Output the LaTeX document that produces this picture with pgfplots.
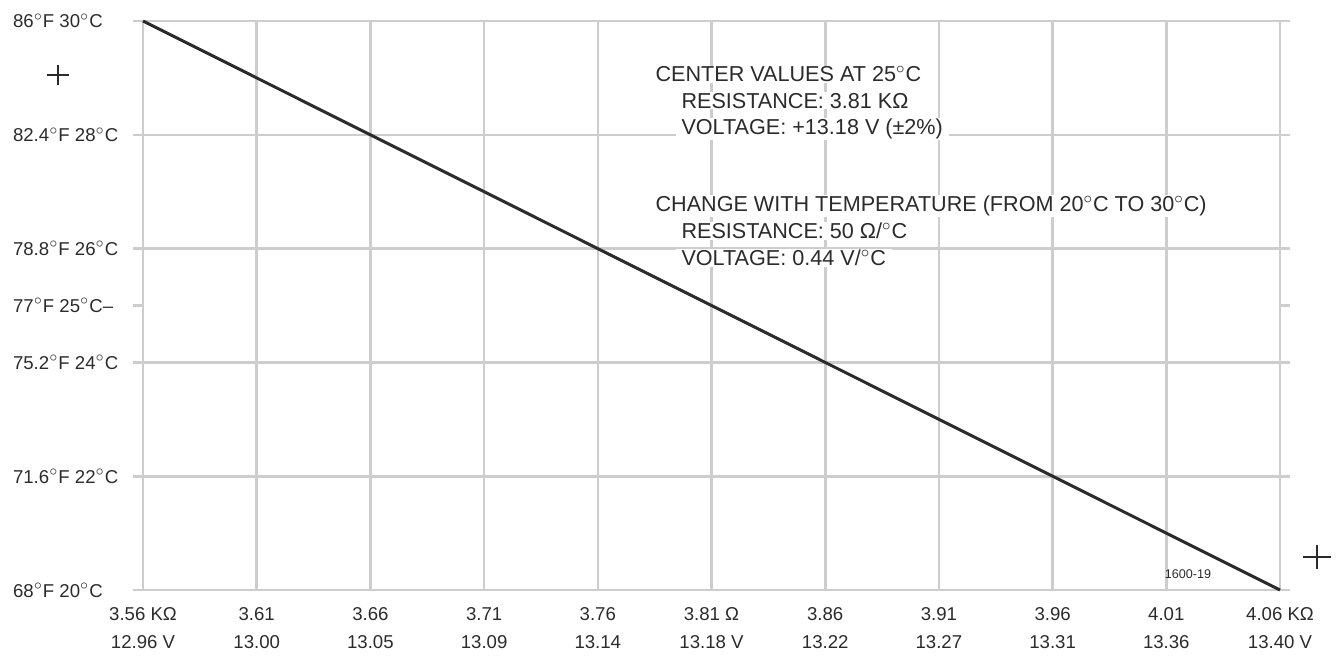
\documentclass[border=0pt]{standalone}
\usepackage{fontspec}
\setmainfont{Liberation Sans}
\usepackage{pgfplots}
\pgfplotsset{compat=1.18}
\definecolor{gridc}{HTML}{CDCDCD}
\definecolor{ink}{HTML}{2B2B2B}
\newcommand{\dg}{\ensuremath{^\circ}}
\begin{document}
\begin{tikzpicture}
\begin{axis}[
  scale only axis, width=568.5pt, height=284.5pt,
  xmin=3.56, xmax=4.06, ymin=20, ymax=30,
  clip=false,
  xtick={3.56,3.61,3.66,3.71,3.76,3.81,3.86,3.91,3.96,4.01,4.06},
  xticklabels={{3.56 KΩ\\12.96 V},{3.61\\13.00},{3.66\\13.05},{3.71\\13.09},{3.76\\13.14},{3.81 Ω\\13.18 V},{3.86\\13.22},{3.91\\13.27},{3.96\\13.31},{4.01\\13.36},{4.06 KΩ\\13.40 V}},
  ytick={20,22,24,26,28,30},
  yticklabels={{68\dg F 20\dg C},{71.6\dg F 22\dg C},{75.2\dg F 24\dg C},{78.8\dg F 26\dg C},{82.4\dg F 28\dg C},{86\dg F 30\dg C}},
  extra y ticks={25},
  extra y tick labels={{77\dg F 25\dg C–}},
  extra y tick style={grid=none},
  xmajorgrids, ymajorgrids,
  grid style={draw=gridc, line width=1.3pt},
  axis line style={draw=gridc, line width=1.3pt},
  xtick style={draw=none},
  ytick style={draw=gridc, line width=1.3pt},
  tick align=outside, major tick length=5pt,
  xticklabel style={align=center, font=\fontsize{9.3}{14}\selectfont, text=ink},
  yticklabel style={anchor=west, xshift=-63.5pt, font=\fontsize{9.3}{11}\selectfont, text=ink},
]
\addplot[ink, line width=1.5pt] coordinates {(3.56,30) (3.81,25) (4.06,20)};

\begin{scope}[every node/.style={anchor=base west, fill=white, inner xsep=3pt, inner ysep=0.4pt, font=\fontsize{10.8}{13}\selectfont, text=ink}]
\node at (axis cs:3.7826,28.93) {CENTER VALUES AT 25\dg C};
\node at (axis cs:3.7940,28.47) {RESISTANCE: 3.81 KΩ};
\node at (axis cs:3.7940,28.01) {VOLTAGE: +13.18 V (±2\%)};
\node at (axis cs:3.7826,26.65) {CHANGE WITH TEMPERATURE (FROM 20\dg C TO 30\dg C)};
\node at (axis cs:3.7940,26.17) {RESISTANCE: 50 Ω/\dg C};
\node at (axis cs:3.7940,25.70) {VOLTAGE: 0.44 V/\dg C};
\end{scope}
\node[font=\fontsize{6.3}{8}\selectfont, text=ink, inner sep=0pt] at (axis cs:4.0195,20.28) {1600-19};
\coordinate (m1) at (axis cs:3.5226,29.051);
\coordinate (m2) at (axis cs:4.0763,20.58);
\coordinate (sw) at (rel axis cs:0,0);
\coordinate (ne) at (rel axis cs:1,1);
\end{axis}
\draw[ink, line width=0.6pt] ([xshift=-5.5pt]m1) -- ([xshift=5.5pt]m1);
\draw[ink, line width=0.6pt] ([yshift=-5pt]m1) -- ([yshift=5pt]m1);
\draw[ink, line width=0.6pt] ([xshift=-7pt]m2) -- ([xshift=7pt]m2);
\draw[ink, line width=0.6pt] ([yshift=-6pt]m2) -- ([yshift=6pt]m2);
\pgfresetboundingbox
\path[use as bounding box] ([xshift=-71.5pt,yshift=-32.5pt]sw) rectangle ([xshift=28pt,yshift=10.5pt]ne);
\end{tikzpicture}
\end{document}
